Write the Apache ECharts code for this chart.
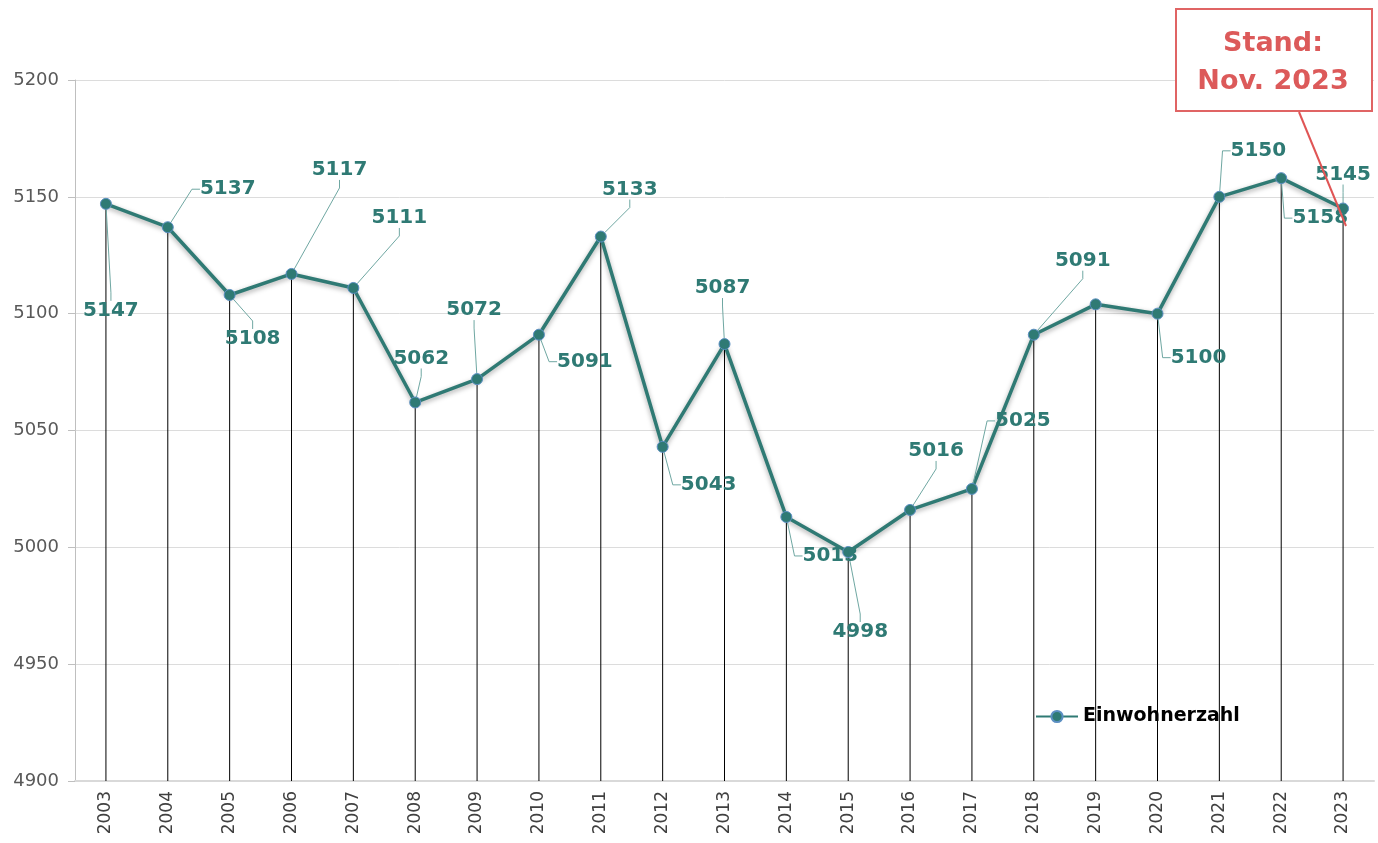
<!DOCTYPE html>
<html>
<head>
<meta charset="utf-8">
<script src="https://cdn.jsdelivr.net/npm/echarts@6/dist/echarts.min.js"></script>
<style>
  html, body { margin: 0; padding: 0; background: #fff; }
  #chart { width: 1378px; height: 843px; }
</style>
</head>
<body>
<div id="chart"></div>
<script>
const years = ['2003', '2004', '2005', '2006', '2007', '2008', '2009', '2010', '2011', '2012',
    '2013', '2014', '2015', '2016', '2017', '2018', '2019', '2020', '2021', '2022', '2023'];
const einwohner = [5147, 5137, 5108, 5117, 5111, 5062, 5072, 5091, 5133, 5043,
    5087, 5013, 4998, 5016, 5025, 5091, 5104, 5100, 5150, 5158, 5145];
// label text as in the original (2019 has none)
const labelShown = [1, 1, 1, 1, 1, 1, 1, 1, 1, 1, 1, 1, 1, 1, 1, 1, 0, 1, 1, 1, 1];
// label offset from the point, px
const labelOffsets = [
    [5, 107], [60, -38], [23, 44], [48, -104], [46, -70], [6, -44], [-3, -69],
    [46, 27], [29, -47], [46, 38], [-2, -56], [44, 39], [12, 80], [26, -59],
    [51, -68], [49, -74], [0, 0], [41, 44], [39, -46], [39, 40], [0, -34],
];
const yTicks = { min: 4900, max: 5200, interval: 50 };

const teal = '#2f7a74';
const font = '"DejaVu Sans", sans-serif';

const chart = echarts.init(document.getElementById('chart'), null, { renderer: 'canvas' });

const option = {
    backgroundColor: '#ffffff',
    animation: false,
    grid: { left: 75, right: 4, top: 80, bottom: 62 },
    legend: {
        left: 1030,
        top: 702,
        itemWidth: 42,
        itemHeight: 14,
        data: ['Einwohnerzahl'],
        textStyle: { color: '#000', fontWeight: 'bold', fontSize: 19, fontFamily: font },
        itemGap: 4,
    },
    xAxis: {
        type: 'category',
        data: years,
        boundaryGap: true,
        axisLine: { lineStyle: { color: '#d9d9d9', width: 2 } },
        axisTick: { show: false },
        axisLabel: {
            rotate: 90,
            color: '#404040',
            fontSize: 17,
            fontFamily: font,
            margin: 10,
        },
    },
    yAxis: {
        type: 'value',
        min: yTicks.min,
        max: yTicks.max,
        interval: yTicks.interval,
        axisLine: { show: true, lineStyle: { color: '#bfbfbf', width: 1 } },
        axisTick: { show: true, length: 7, lineStyle: { color: '#bfbfbf' } },
        axisLabel: {
            color: '#595959',
            fontSize: 18,
            fontFamily: font,
            margin: 16,
            formatter: (v) => String(v),
        },
        splitLine: { lineStyle: { color: '#dcdcdc', width: 1 } },
    },
    series: [
        {
            name: 'drop',
            type: 'bar',
            data: einwohner,
            barWidth: 1,
            silent: true,
            itemStyle: { color: '#000' },
            z: 1,
        },
        {
            name: 'Einwohnerzahl',
            type: 'line',
            data: einwohner.map((v, i) => ({
                value: v,
                label: { show: !!labelShown[i] },
                labelLine: { show: !!labelShown[i] },
            })),
            symbol: 'circle',
            symbolSize: 11,
            itemStyle: { color: teal, borderColor: '#5b8fc2', borderWidth: 1 },
            lineStyle: {
                color: teal,
                width: 3.5,
                shadowColor: 'rgba(0,0,0,0.35)',
                shadowBlur: 5,
                shadowOffsetY: 2,
            },
            label: {
                show: true,
                position: 'inside',
                color: teal,
                fontWeight: 'bold',
                fontSize: 20,
                fontFamily: font,
            },
            labelLine: {
                show: true,
                length2: 8,
                lineStyle: { color: '#6fa7a2', width: 1 },
            },
            labelLayout: (params) => {
                const o = labelOffsets[params.dataIndex];
                return { dx: o[0], dy: o[1] };
            },
            z: 3,
        },
    ],
    graphic: [
        {
            type: 'rect',
            left: 1175,
            top: 8,
            shape: { width: 196, height: 102 },
            style: { fill: '#fff', stroke: '#e06464', lineWidth: 2 },
            z: 10,
        },
        {
            type: 'text',
            z: 11,
            x: 1273,
            y: 25,
            style: {
                text: 'Stand:\nNov. 2023',
                align: 'center',
                fill: '#dc5a5a',
                font: 'bold 27px "DejaVu Sans", sans-serif',
                lineHeight: 38,
            },
        },
        {
            type: 'line',
            z: 11,
            shape: { x1: 1299, y1: 112, x2: 1346, y2: 226 },
            style: { stroke: '#e05555', lineWidth: 2 },
        },
    ],
};

chart.setOption(option);
</script>
</body>
</html>
